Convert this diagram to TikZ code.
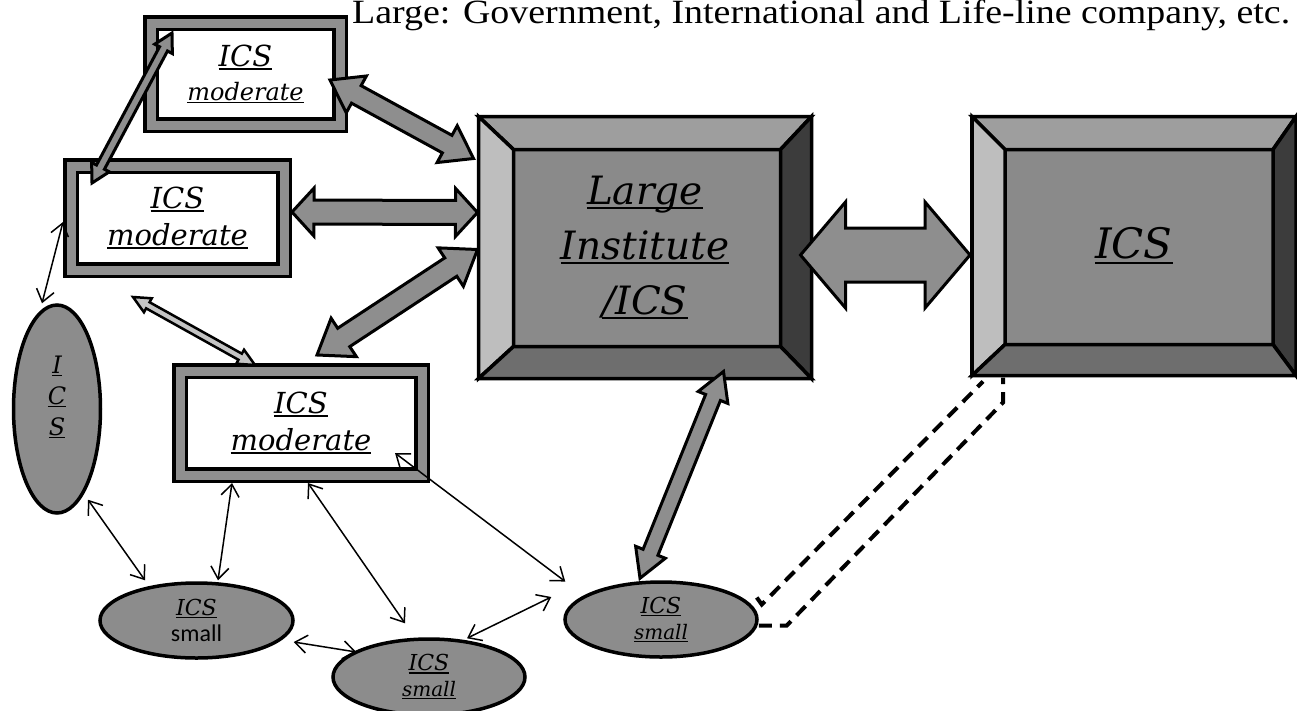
\documentclass[tikz,border=0pt]{standalone}
\usepackage{fontspec}
\setmainfont{Liberation Serif}
\newfontfamily\lblfont{DejaVu Serif}
\newfontfamily\sansfnt{Carlito}
\usetikzlibrary{calc,shapes.geometric,arrows.meta}
\definecolor{bandgray}{HTML}{8F8F8F}
\definecolor{ellgray}{HTML}{8C8C8C}
\definecolor{arrgray}{HTML}{8E8E8E}
\definecolor{lightarr}{HTML}{C4C4C4}
\definecolor{midgray}{HTML}{8A8A8A}
\definecolor{bevtop}{HTML}{9E9E9E}
\definecolor{bevleft}{HTML}{BEBEBE}
\definecolor{bevright}{HTML}{3C3C3C}
\definecolor{bevbot}{HTML}{6E6E6E}
\newcommand\ulw[1]{\setbox0=\hbox{#1}\rlap{\rule[-0.13em]{\wd0}{0.06em}}\box0}
\newcommand\fatarr[6][]{%
  \coordinate (faA) at #2;
  \coordinate (faB) at #3;
  \coordinate (faP) at ($(faA)!#6!(faB)$);
  \coordinate (faQ) at ($(faB)!#6!(faA)$);
  \draw[fat,#1] (faA) -- ($(faP)!#5!90:(faB)$) -- ($(faP)!#4!90:(faB)$)
    -- ($(faQ)!#4!-90:(faA)$) -- ($(faQ)!#5!-90:(faA)$) -- (faB)
    -- ($(faQ)!#5!90:(faA)$) -- ($(faQ)!#4!90:(faA)$)
    -- ($(faP)!#4!-90:(faB)$) -- ($(faP)!#5!-90:(faB)$) -- cycle;
}
\newcommand\bevel[5]{%
  \coordinate (#1nwi) at ($(#1.north west)+(#2,#3)$);
  \coordinate (#1nei) at ($(#1.north east)+(-#4,#3)$);
  \coordinate (#1sei) at ($(#1.south east)+(-#4,-#5)$);
  \coordinate (#1swi) at ($(#1.south west)+(#2,-#5)$);
  \draw[bev,fill=bevtop] (#1.north west) -- (#1.north east) -- (#1nei) -- (#1nwi) -- cycle;
  \draw[bev,fill=bevleft] (#1.north west) -- (#1nwi) -- (#1swi) -- (#1.south west) -- cycle;
  \draw[bev,fill=bevright] (#1.north east) -- (#1.south east) -- (#1sei) -- (#1nei) -- cycle;
  \draw[bev,fill=bevbot] (#1.south west) -- (#1swi) -- (#1sei) -- (#1.south east) -- cycle;
}
\tikzset{
  modbox/.style={draw=black, line width=3.5pt, double=bandgray, double distance=9pt,
    fill=white, inner sep=0pt, outer sep=8pt, align=center},
  ell/.style={ellipse, draw=black, line width=3.5pt, fill=ellgray, inner sep=0pt, align=center},
  bigbox/.style={draw=black, line width=3.5pt, fill=midgray, inner sep=0pt, outer sep=0pt, align=center},
  bev/.style={draw=black, line width=3.5pt, line join=miter},
  fat/.style={draw=black, line width=3pt, fill=arrgray, line join=miter},
  thinarr/.style={line width=1.5pt, {Straight Barb[length=12pt,width=18pt]}-{Straight Barb[length=12pt,width=18pt]}},
  dashline/.style={line width=4pt, dash pattern=on 13pt off 8pt}
}
\begin{document}
\begin{tikzpicture}[x=1pt,y=-1pt]
\useasboundingbox (0,0) rectangle (1297,710);
% title
\node[anchor=base west, inner sep=0pt, font=\fontsize{34}{40}\selectfont] (title) at (352,23)
  {\scalebox{1.115}[1]{Large: Government, International and Life-line company, etc.}};
% moderate boxes
\node[modbox, minimum width=189pt, minimum height=102pt, font=\lblfont\itshape\fontsize{29}{34}\selectfont] (A) at (245.5,74)
  {\ulw{ICS}\\{\fontsize{24}{34}\selectfont\ulw{moderate}}};
\node[modbox, minimum width=213pt, minimum height=104pt, font=\lblfont\itshape\fontsize{29}{37}\selectfont] (B) at (177.5,218)
  {\ulw{ICS}\\\ulw{moderate}};
\node[modbox, minimum width=242pt, minimum height=104pt, font=\lblfont\itshape\fontsize{29}{37}\selectfont] (C) at (301,423)
  {\ulw{ICS}\\\ulw{moderate}};
% ellipses
\node[ell, minimum width=87pt, minimum height=208pt] (v) at (57,409) {};
\node[align=center, inner sep=0pt, font=\lblfont\itshape\fontsize{24}{31}\selectfont] (vt) at ($(v.center)+(0,-12)$)
  {\ulw{I}\\\ulw{C}\\\ulw{S}};
\node[ell, minimum width=193pt, minimum height=75pt, font=\fontsize{22}{26}\selectfont] (s1) at (196.5,620.5)
  {{\lblfont\itshape\ulw{ICS}}\\{\sansfnt\fontsize{24}{26}\selectfont small}};
\node[ell, minimum width=192pt, minimum height=76pt, font=\fontsize{22}{26}\selectfont] (s2) at (429,677)
  {{\lblfont\itshape\ulw{ICS}}\\{\lblfont\itshape\fontsize{20}{26}\selectfont\ulw{small}}};
\node[ell, minimum width=192pt, minimum height=75pt, font=\fontsize{22}{26}\selectfont] (s3) at (661,619.5)
  {{\lblfont\itshape\ulw{ICS}}\\{\lblfont\itshape\fontsize{20}{26}\selectfont\ulw{small}}};
% large boxes
\node[bigbox, minimum width=333pt, minimum height=262pt, font=\lblfont\itshape\fontsize{39}{55}\selectfont] (lg) at (645,247.5)
  {\ulw{Large}\\\ulw{Institute}\\\ulw{/ICS}};
\bevel{lg}{35}{33}{31}{32}
\node[bigbox, minimum width=324pt, minimum height=259pt, font=\lblfont\itshape\fontsize{42}{50}\selectfont] (ics) at (1134,246)
  {\ulw{ICS}};
\bevel{ics}{33}{33}{23}{31}
% fat arrows
\fatarr{($(A.east)+(-18,6)$)}{($(lg.north west)+(-5,42)$)}{10pt}{21pt}{30pt}
\fatarr{($(B.east)+(0,-6)$)}{($(lg.north west)+(-1,96)$)}{12pt}{24pt}{22pt}
\fatarr{($(C.north)+(16,-8)$)}{($(lg.north west)+(-1,133)$)}{11pt}{23pt}{32pt}
\fatarr{($(A.north west)+(29,18)$)}{($(B.north west)+(29,25)$)}{4.5pt}{10pt}{18pt}
\fatarr[fill=lightarr,line width=2.5pt]{($(B.south west)+(70,19)$)}{($(C.north west)+(83,2)$)}{3.5pt}{8pt}{17pt}
\fatarr{($(lg.south west)+(245,-7)$)}{($(s3.north)+(-21,-2)$)}{8pt}{16pt}{28pt}
\fatarr{($(lg.east)+(-11,7.5)$)}{($(ics.west)+(-2,9)$)}{27pt}{53pt}{45pt}
% dashed link
\draw[dashline] ($(s3.east)+(-2,-22)$) -- ($(s3.east)+(3,-15)$) -- ($(ics.south west)+(11,6)$);
\draw[dashline] ($(s3.east)+(0,6)$) -- ($(s3.east)+(28,6)$) -- ($(ics.south west)+(31,27)$) -- ($(ics.south west)+(31,2)$);
% thin arrows
\draw[thinarr] ($(B.west)+(0,4)$) -- ($(v.north)+(-15,0)$);
\draw[thinarr] ($(v.south)+(31,-15)$) -- ($(s1.north)+(-51.5,-1)$);
\draw[thinarr] ($(C.south west)+(60,0)$) -- ($(s1.north)+(21.5,-1)$);
\draw[thinarr] ($(C.south)+(7,0)$) -- ($(s2.north)+(-24,-14)$);
\draw[thinarr] ($(s1.east)+(-1,21.5)$) -- ($(s2.west)+(25,-25)$);
\draw[thinarr] ($(C.south east)+(-35,-30)$) -- ($(s3.west)+(2,-38)$);
\draw[thinarr] ($(s2.north)+(38,1)$) -- ($(s3.west)+(-12,-22.5)$);
\end{tikzpicture}
\end{document}
